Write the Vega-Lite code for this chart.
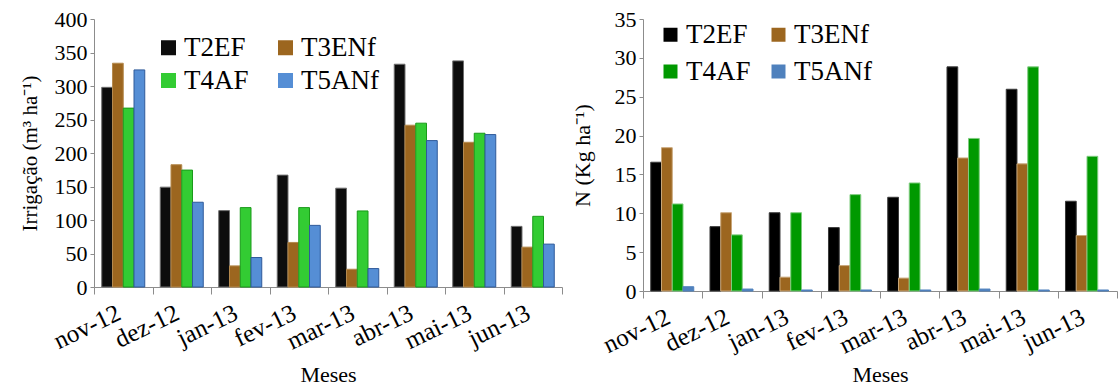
{
  "$schema": "https://vega.github.io/schema/vega-lite/v6.json",
  "padding": {"left": 19, "top": 8, "right": 0, "bottom": 0},
  "config": {
    "view": {"stroke": null},
    "font": "Liberation Serif",
    "style": {
      "guide-label": {"font": "Liberation Serif", "fill": "#000000"},
      "guide-title": {"font": "Liberation Serif", "fill": "#000000", "fontWeight": "normal"}
    },
    "axis": {
      "labelFont": "Liberation Serif",
      "titleFont": "Liberation Serif",
      "labelColor": "#000000",
      "titleColor": "#000000",
      "domainColor": "#8c8c8c",
      "tickColor": "#8c8c8c",
      "grid": false,
      "titleFontWeight": "normal"
    },
    "legend": {
      "labelFont": "Liberation Serif",
      "labelColor": "#000000",
      "symbolType": "square",
      "symbolStrokeWidth": 0,
      "padding": 0
    }
  },
  "datasets": {
    "irr": [
      {"mes": "nov-12", "trat": "T2EF", "v": 298}, {"mes": "nov-12", "trat": "T3ENf", "v": 334}, {"mes": "nov-12", "trat": "T4AF", "v": 267}, {"mes": "nov-12", "trat": "T5ANf", "v": 324},
      {"mes": "dez-12", "trat": "T2EF", "v": 149}, {"mes": "dez-12", "trat": "T3ENf", "v": 182.5}, {"mes": "dez-12", "trat": "T4AF", "v": 174.5}, {"mes": "dez-12", "trat": "T5ANf", "v": 126.5},
      {"mes": "jan-13", "trat": "T2EF", "v": 114}, {"mes": "jan-13", "trat": "T3ENf", "v": 31.5}, {"mes": "jan-13", "trat": "T4AF", "v": 118.5}, {"mes": "jan-13", "trat": "T5ANf", "v": 44},
      {"mes": "fev-13", "trat": "T2EF", "v": 167}, {"mes": "fev-13", "trat": "T3ENf", "v": 66.5}, {"mes": "fev-13", "trat": "T4AF", "v": 118.5}, {"mes": "fev-13", "trat": "T5ANf", "v": 92},
      {"mes": "mar-13", "trat": "T2EF", "v": 147.5}, {"mes": "mar-13", "trat": "T3ENf", "v": 26.5}, {"mes": "mar-13", "trat": "T4AF", "v": 113.5}, {"mes": "mar-13", "trat": "T5ANf", "v": 27.5},
      {"mes": "abr-13", "trat": "T2EF", "v": 332.5}, {"mes": "abr-13", "trat": "T3ENf", "v": 241.5}, {"mes": "abr-13", "trat": "T4AF", "v": 244.5}, {"mes": "abr-13", "trat": "T5ANf", "v": 218.5},
      {"mes": "mai-13", "trat": "T2EF", "v": 337.5}, {"mes": "mai-13", "trat": "T3ENf", "v": 216}, {"mes": "mai-13", "trat": "T4AF", "v": 229.5}, {"mes": "mai-13", "trat": "T5ANf", "v": 227.5},
      {"mes": "jun-13", "trat": "T2EF", "v": 90.5}, {"mes": "jun-13", "trat": "T3ENf", "v": 59.5}, {"mes": "jun-13", "trat": "T4AF", "v": 105.5}, {"mes": "jun-13", "trat": "T5ANf", "v": 64}
    ],
    "n": [
      {"mes": "nov-12", "trat": "T2EF", "v": 16.57}, {"mes": "nov-12", "trat": "T3ENf", "v": 18.44}, {"mes": "nov-12", "trat": "T4AF", "v": 11.2}, {"mes": "nov-12", "trat": "T5ANf", "v": 0.55},
      {"mes": "dez-12", "trat": "T2EF", "v": 8.28}, {"mes": "dez-12", "trat": "T3ENf", "v": 10.07}, {"mes": "dez-12", "trat": "T4AF", "v": 7.22}, {"mes": "dez-12", "trat": "T5ANf", "v": 0.25},
      {"mes": "jan-13", "trat": "T2EF", "v": 10.07}, {"mes": "jan-13", "trat": "T3ENf", "v": 1.78}, {"mes": "jan-13", "trat": "T4AF", "v": 10.07}, {"mes": "jan-13", "trat": "T5ANf", "v": 0.13},
      {"mes": "fev-13", "trat": "T2EF", "v": 8.16}, {"mes": "fev-13", "trat": "T3ENf", "v": 3.27}, {"mes": "fev-13", "trat": "T4AF", "v": 12.4}, {"mes": "fev-13", "trat": "T5ANf", "v": 0.13},
      {"mes": "mar-13", "trat": "T2EF", "v": 12.06}, {"mes": "mar-13", "trat": "T3ENf", "v": 1.66}, {"mes": "mar-13", "trat": "T4AF", "v": 13.9}, {"mes": "mar-13", "trat": "T5ANf", "v": 0.13},
      {"mes": "abr-13", "trat": "T2EF", "v": 28.84}, {"mes": "abr-13", "trat": "T3ENf", "v": 17.12}, {"mes": "abr-13", "trat": "T4AF", "v": 19.63}, {"mes": "abr-13", "trat": "T5ANf", "v": 0.25},
      {"mes": "mai-13", "trat": "T2EF", "v": 25.96}, {"mes": "mai-13", "trat": "T3ENf", "v": 16.36}, {"mes": "mai-13", "trat": "T4AF", "v": 28.84}, {"mes": "mai-13", "trat": "T5ANf", "v": 0.13},
      {"mes": "jun-13", "trat": "T2EF", "v": 11.55}, {"mes": "jun-13", "trat": "T3ENf", "v": 7.14}, {"mes": "jun-13", "trat": "T4AF", "v": 17.33}, {"mes": "jun-13", "trat": "T5ANf", "v": 0.13}
    ]
  },
  "spacing": 8,
  "hconcat": [
    {
      "width": 468,
      "height": 268,
      "data": {"name": "irr"},
      "mark": {"type": "bar", "strokeWidth": 1},
      "encoding": {
        "x": {
          "field": "mes", "type": "nominal",
          "sort": ["nov-12", "dez-12", "jan-13", "fev-13", "mar-13", "abr-13", "mai-13", "jun-13"],
          "scale": {"paddingInner": 0, "paddingOuter": 0},
          "axis": {"title": "Meses", "labelFontSize": 25, "titleFontSize": 22, "labelAngle": -26, "labelAlign": "right", "labelBaseline": "top", "labelOffset": -10, "tickBand": "extent", "tickSize": 7, "labelPadding": 6, "titlePadding": 11}
        },
        "xOffset": {"field": "trat", "type": "nominal", "scale": {"paddingInner": 0, "paddingOuter": 0.72}},
        "y": {
          "field": "v", "type": "quantitative",
          "scale": {"domain": [0, 400], "nice": false},
          "axis": {"title": "Irrigação (m³ ha⁻¹)", "labelFontSize": 22, "titleFontSize": 21, "values": [0, 50, 100, 150, 200, 250, 300, 350, 400], "tickSize": 4, "labelPadding": 3, "titlePadding": 14}
        },
        "color": {
          "field": "trat", "type": "nominal",
          "scale": {"domain": ["T2EF", "T3ENf", "T4AF", "T5ANf"], "range": ["#0d0d0d", "#9c661f", "#33cc33", "#558ed5"]},
          "legend": {"title": null, "orient": "none", "legendX": 61, "legendY": 15, "columns": 2, "direction": "horizontal", "labelFontSize": 27, "symbolSize": 225, "labelOffset": 2, "columnPadding": 23, "rowPadding": 5}
        },
        "stroke": {
          "field": "trat", "type": "nominal",
          "scale": {"domain": ["T2EF", "T3ENf", "T4AF", "T5ANf"], "range": ["#6e6e6e", "#b58a4e", "#1a9a1a", "#2f5a9a"]},
          "legend": null
        }
      }
    },
    {
      "width": 474,
      "height": 272,
      "data": {"name": "n"},
      "mark": {"type": "bar", "strokeWidth": 1},
      "encoding": {
        "x": {
          "field": "mes", "type": "nominal",
          "sort": ["nov-12", "dez-12", "jan-13", "fev-13", "mar-13", "abr-13", "mai-13", "jun-13"],
          "scale": {"paddingInner": 0, "paddingOuter": 0},
          "axis": {"title": "Meses", "labelFontSize": 25, "titleFontSize": 22, "labelAngle": -26, "labelAlign": "right", "labelBaseline": "top", "labelOffset": -10, "tickBand": "extent", "tickSize": 7, "labelPadding": 6, "titlePadding": 7}
        },
        "xOffset": {"field": "trat", "type": "nominal", "scale": {"paddingInner": 0, "paddingOuter": 0.72}},
        "y": {
          "field": "v", "type": "quantitative",
          "scale": {"domain": [0, 35], "nice": false},
          "axis": {"title": "N (Kg ha⁻¹)", "labelFontSize": 22, "titleFontSize": 22, "values": [0, 5, 10, 15, 20, 25, 30, 35], "tickSize": 4, "labelPadding": 3, "titlePadding": 20}
        },
        "color": {
          "field": "trat", "type": "nominal",
          "scale": {"domain": ["T2EF", "T3ENf", "T4AF", "T5ANf"], "range": ["#000000", "#9c661f", "#009900", "#4f81bd"]},
          "legend": {"title": null, "orient": "none", "legendX": 14, "legendY": 2, "columns": 2, "direction": "horizontal", "labelFontSize": 27, "symbolSize": 196, "labelOffset": 2, "columnPadding": 14, "rowPadding": 9}
        },
        "stroke": {
          "field": "trat", "type": "nominal",
          "scale": {"domain": ["T2EF", "T3ENf", "T4AF", "T5ANf"], "range": ["#3a3a3a", "#c9a77a", "#7fcc7f", "#4f81bd"]},
          "legend": null
        }
      }
    }
  ],
  "resolve": {"scale": {"color": "independent", "stroke": "independent", "x": "independent", "y": "independent"}, "legend": {"color": "independent"}}
}
